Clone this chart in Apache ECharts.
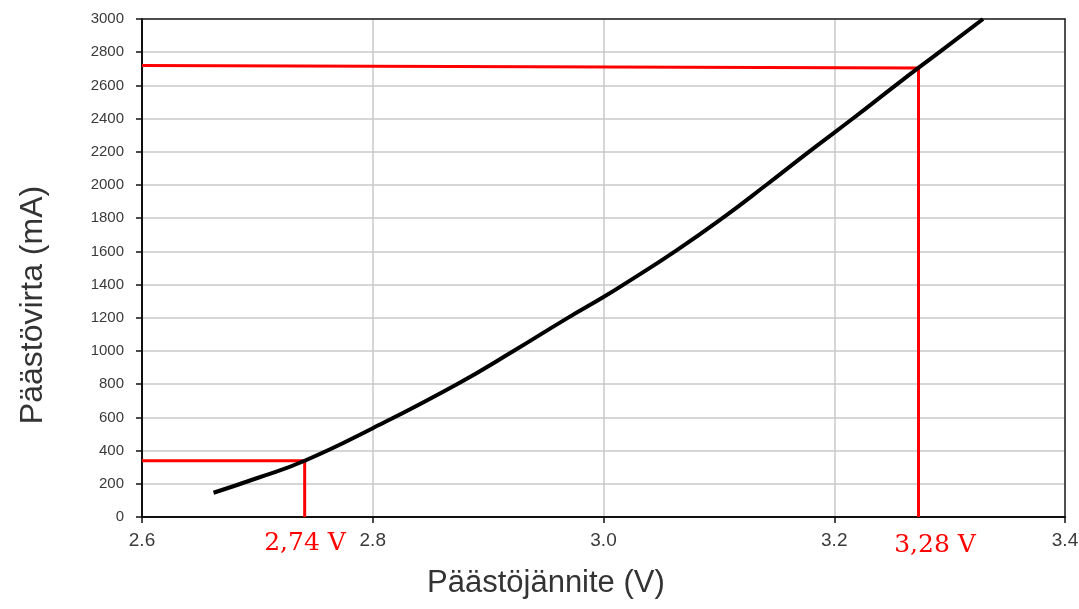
<!DOCTYPE html>
<html>
<head>
<meta charset="utf-8">
<script src="https://cdn.jsdelivr.net/npm/echarts@6/dist/echarts.min.js"></script>
<style>
  html, body { margin: 0; padding: 0; background: #fff; }
  #chart { width: 1079px; height: 609px; }
</style>
</head>
<body>
<div id="chart"></div>
<script>
// curve: voltage (V) vs current (mA)
const voltage = [2.662, 2.70, 2.741, 2.80, 2.873, 2.922, 2.968, 3.0, 3.017, 3.063, 3.104, 3.141, 3.178, 3.217, 3.254, 3.292, 3.329];
const current = [146, 235, 339, 535, 800, 1000, 1195, 1325, 1398, 1605, 1805, 2000, 2200, 2405, 2605, 2805, 3000];

// red guide lines
const lowGuideX = [2.6, 2.741, 2.741];
const lowGuideY = [339, 339, 0];
const highGuideX = [2.6, 3.273, 3.273];
const highGuideY = [2720, 2705, 0];

const lowLabel = '2,74 V';
const highLabel = '3,28 V';
const xTitle = 'Päästöjännite (V)';
const yTitle = 'Päästövirta (mA)';

function pairs(xs, ys){
    return xs.map((x, i) => [x, ys[i]]);
}

let chart = echarts.init(document.getElementById('chart'));
let frameAxis = {
    type: 'value',
    axisLine: { show: true, onZero: false, lineStyle: { color: '#222', width: 1.5 } },
    axisTick: { show: false },
    axisLabel: { show: false },
    splitLine: { show: false }
};
let options = {
    animation: false,
    grid: {
        left: 142, right: 14, top: 19, bottom: 92,
        containLabel: false,
        outerBoundsMode: 'none'
    },
    xAxis: [{
        type: 'value',
        min: 2.6, max: 3.4, interval: 0.2,
        axisLine: { show: true, onZero: false, lineStyle: { color: '#111', width: 2 } },
        axisTick: { show: true, length: 6, lineStyle: { color: '#111', width: 1.5 } },
        axisLabel: {
            margin: 14,
            fontFamily: 'Liberation Sans',
            fontSize: 19,
            color: '#3a3a3a',
            formatter: v => v.toFixed(1)
        },
        splitLine: { show: true, lineStyle: { color: '#c8c8c8', width: 1.5 } }
    }, Object.assign({ position: 'top', min: 2.6, max: 3.4 }, frameAxis)],
    yAxis: [{
        type: 'value',
        min: 0, max: 3000, interval: 200,
        axisLine: { show: true, lineStyle: { color: '#111', width: 2 } },
        axisTick: { show: true, length: 6, lineStyle: { color: '#111', width: 1.5 } },
        axisLabel: {
            margin: 18,
            fontFamily: 'Liberation Sans',
            fontSize: 15,
            color: '#3a3a3a',
            formatter: v => String(v)
        },
        splitLine: { show: true, lineStyle: { color: '#c8c8c8', width: 1.5 } }
    }, Object.assign({ position: 'right', min: 0, max: 3000 }, frameAxis)],
    graphic: [
        {
            type: 'text', left: 427, top: 568,
            style: { text: xTitle, font: '31px "Liberation Sans"', fill: '#333' }
        },
        {
            type: 'text', x: 17, y: 305, rotation: Math.PI / 2,
            style: { text: yTitle, font: '32px "Liberation Sans"', fill: '#333', textAlign: 'center', textVerticalAlign: 'top' }
        },
        {
            type: 'text', x: 305, y: 543,
            style: { text: lowLabel, font: '25px "DejaVu Serif"', fill: '#ff0000', textAlign: 'center', textVerticalAlign: 'middle' }
        },
        {
            type: 'text', x: 935, y: 545,
            style: { text: highLabel, font: '25px "DejaVu Serif"', fill: '#ff0000', textAlign: 'center', textVerticalAlign: 'middle' }
        }
    ],
    series: [
        {
            type: 'line',
            data: pairs(lowGuideX, lowGuideY),
            showSymbol: false,
            lineStyle: { color: '#ff0000', width: 3 },
            z: 3
        },
        {
            type: 'line',
            data: pairs(highGuideX, highGuideY),
            showSymbol: false,
            lineStyle: { color: '#ff0000', width: 3 },
            z: 3
        },
        {
            type: 'line',
            data: pairs(voltage, current),
            smooth: 0.5,
            showSymbol: false,
            lineStyle: { color: '#000', width: 4 },
            z: 4
        }
    ]
};
chart.setOption(options);
</script>
</body>
</html>
